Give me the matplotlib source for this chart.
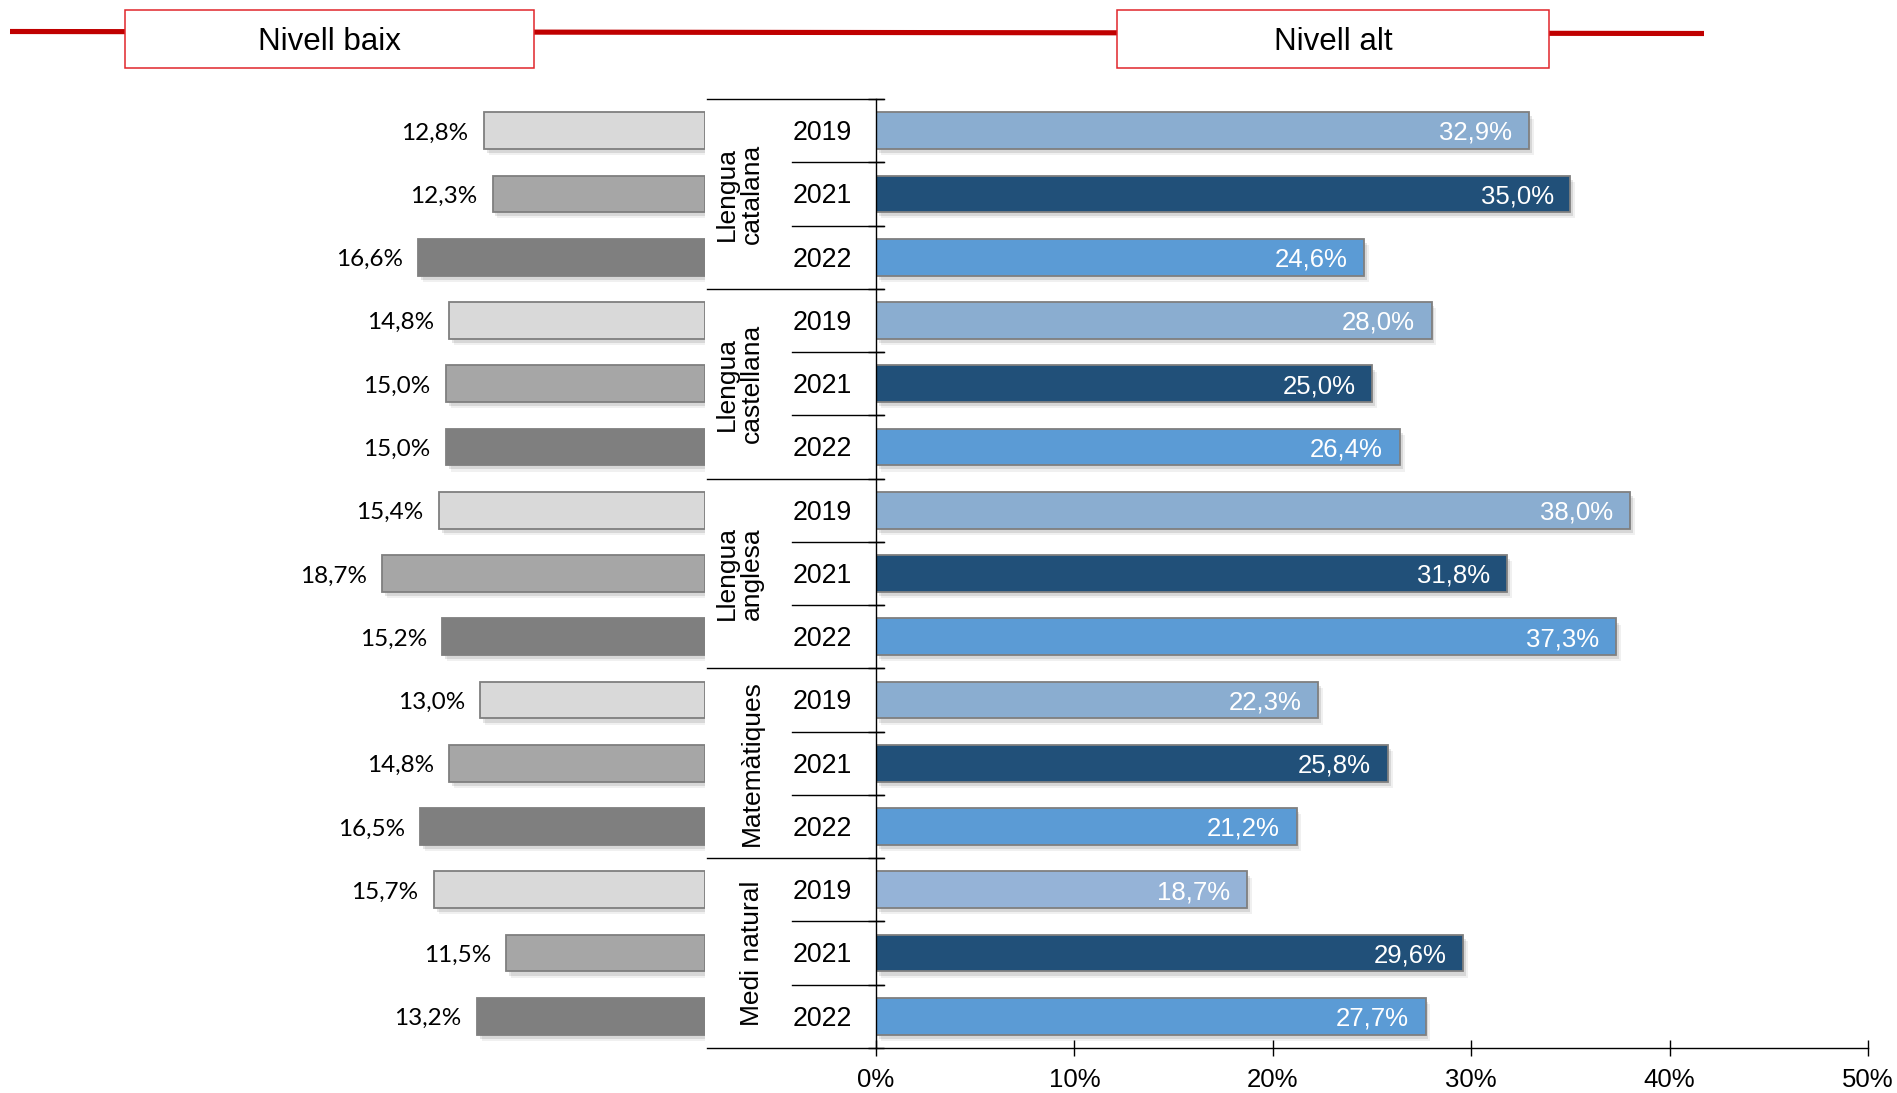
import numpy as np
import matplotlib
matplotlib.use("Agg")
import matplotlib.pyplot as plt
from matplotlib.patches import Rectangle
from matplotlib import patheffects as pe

# ── DADES ──────────────────────────────────────────────────
materies = ["Llengua\ncatalana", "Llengua\ncastellana", "Llengua\nanglesa",
            "Matemàtiques", "Medi natural"]
anys = ["2019", "2021", "2022"]

nivell_baix = [12.8, 12.3, 16.6,
               14.8, 15.0, 15.0,
               15.4, 18.7, 15.2,
               13.0, 14.8, 16.5,
               15.7, 11.5, 13.2]
nivell_alt = [32.9, 35.0, 24.6,
              28.0, 25.0, 26.4,
              38.0, 31.8, 37.3,
              22.3, 25.8, 21.2,
              18.7, 29.6, 27.7]

ticks_alt = [0, 10, 20, 30, 40, 50]
# ───────────────────────────────────────────────────────────

COL_BAIX = ["#D9D9D9", "#A6A6A6", "#7F7F7F"]
COL_ALT = ["#8AADD0", "#215079", "#5B9BD5"]
COL_ALT_MEDI_2019 = "#95B3D7"
VORA = "#7F7F7F"
VERMELL = "#C00000"

ARIAL = "Liberation Sans"
CALIBRI = "Lato"

W, H = 1897, 1093
TOP, BOT = 99, 1048          # files de la taula (px)
L_RIGHT, L_SCALE = 705, 17.27  # px per % al costat esquerre
R_LEFT, R_RIGHT = 876, 1868
BAIXA = -1.7                  # petit desplaçament vertical dels textos (pt)


def fx(px):
    return px / W


def fy(px):
    return 1 - px / H


n = len(nivell_alt)
files = np.arange(n)

fig = plt.figure(figsize=(W / 100, H / 100), dpi=100)

ombra = [pe.SimplePatchShadow(offset=(2, -3), shadow_rgbFace="#000000", alpha=0.10),
         pe.SimplePatchShadow(offset=(3.5, -4.5), shadow_rgbFace="#000000", alpha=0.06),
         pe.Normal()]

# --- eixos esquerre (nivell baix) ---
ax_l = fig.add_axes([fx(250), fy(BOT), fx(L_RIGHT - 250), (BOT - TOP) / H])
col_b = [COL_BAIX[i % 3] for i in files]
barres_b = ax_l.barh(files, nivell_baix, height=0.58, color=col_b,
                     edgecolor=VORA, linewidth=1.3)
for b in barres_b:
    b.set_path_effects(ombra)
ax_l.set_xlim((L_RIGHT - 250) / L_SCALE, 0)
ax_l.set_ylim(n - 0.5, -0.5)
ax_l.axis("off")
for i, v in enumerate(nivell_baix):
    ax_l.annotate(f"{v:.1f}%".replace(".", ","), (v, i), xytext=(-11, BAIXA),
                  textcoords="offset points", ha="right", va="center",
                  fontsize=17.5, family=CALIBRI, color="black")

# --- eixos dret (nivell alt) ---
ax_r = fig.add_axes([fx(R_LEFT), fy(BOT), fx(R_RIGHT - R_LEFT), (BOT - TOP) / H])
col_a = [COL_ALT[i % 3] for i in files]
col_a[12] = COL_ALT_MEDI_2019
barres_a = ax_r.barh(files, nivell_alt, height=0.58, color=col_a,
                     edgecolor=VORA, linewidth=1.3, zorder=2)
for b in barres_a:
    b.set_path_effects(ombra)
for i, v in enumerate(nivell_alt):
    ax_r.annotate(f"{v:.1f}%".replace(".", ","), (v, i), xytext=(-12, BAIXA),
                  textcoords="offset points", ha="right", va="center",
                  fontsize=18.5, family=ARIAL, color="white", zorder=3)
ax_r.set_xlim(0, 50)
ax_r.set_ylim(n - 0.5, -0.5)
ax_r.spines[["top", "right"]].set_visible(False)
for s in ["left", "bottom"]:
    ax_r.spines[s].set_linewidth(1.0)
    ax_r.spines[s].set_color("black")
ax_r.set_xticks(ticks_alt)
ax_r.set_xticklabels([f"{t}%" for t in ticks_alt], fontsize=18.5, family=ARIAL)
ax_r.set_yticks(np.arange(-0.5, n, 1.0))
ax_r.set_yticklabels([])
ax_r.tick_params(axis="x", direction="inout", length=12, width=1.0, pad=8.5)
ax_r.tick_params(axis="y", direction="inout", length=11.5, width=1.0)

# --- columna central: matèries i anys ---
ax_m = fig.add_axes([fx(707), fy(BOT), fx(R_LEFT - 707), (BOT - TOP) / H])
ax_m.set_xlim(707, R_LEFT)
ax_m.set_ylim(n - 0.5, -0.5)
ax_m.axis("off")
for g in range(len(materies) + 1):
    y = g * 3 - 0.5
    ax_m.plot([707, 884 if g < len(materies) else R_LEFT], [y, y],
              color="black", lw=1.0, clip_on=False)
for g in range(len(materies)):
    for k in (1, 2):
        y = g * 3 + k - 0.5
        ax_m.plot([792, 884], [y, y], color="black", lw=1.0, clip_on=False)
    ax_m.text(764, g * 3 + 1, materies[g], rotation=90, ha="right", va="center",
              multialignment="center", linespacing=1.05, fontsize=19, family=ARIAL)
for i in files:
    ax_m.annotate(anys[i % 3], (793, i), xytext=(0, BAIXA),
                  textcoords="offset points", ha="left", va="center",
                  fontsize=19.3, family=ARIAL)

# --- capçalera ---
ax_h = fig.add_axes([0, 0, 1, 1], zorder=-1)
ax_h.set_xlim(0, W)
ax_h.set_ylim(H, 0)
ax_h.axis("off")
ax_h.plot([10, 1704], [31.5, 33.5], color=VERMELL, lw=3.7, solid_capstyle="butt")
for x0, x1, txt in [(125, 534, "Nivell baix"), (1117, 1549, "Nivell alt")]:
    ax_h.add_patch(Rectangle((x0, 10), x1 - x0, 58, facecolor="white",
                             edgecolor="#E0262B", lw=1.1, zorder=3))
    ax_h.text((x0 + x1) / 2, 42.5, txt, ha="center", va="center",
              fontsize=22.5, family=ARIAL, zorder=4)

fig.savefig("out.png", dpi=100)
